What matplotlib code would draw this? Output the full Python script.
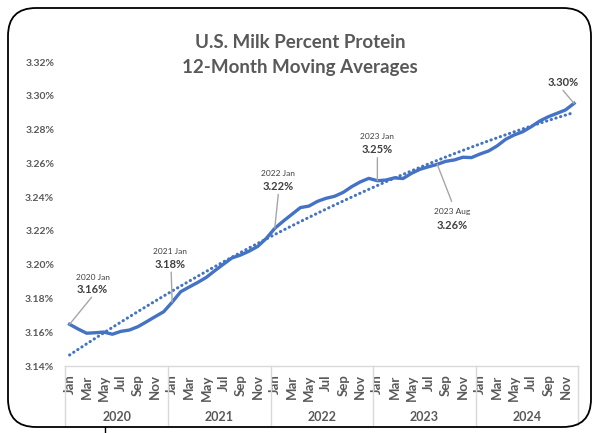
import numpy as np
import matplotlib
matplotlib.use("Agg")
import matplotlib.pyplot as plt
from matplotlib.patches import FancyBboxPatch
from matplotlib.lines import Line2D
import matplotlib.transforms as mtransforms

plt.rcParams['font.family'] = ['Lato', 'DejaVu Sans']

years = ['2020', '2021', '2022', '2023', '2024']
months = ['Jan', 'Feb', 'Mar', 'Apr', 'May', 'Jun', 'Jul', 'Aug', 'Sep', 'Oct', 'Nov', 'Dec']

protein_2020 = [3.1647, 3.1619, 3.1594, 3.1597, 3.1601, 3.1588, 3.1605, 3.1613, 3.1633, 3.1662, 3.1692, 3.1721]
protein_2021 = [3.1778, 3.1840, 3.1868, 3.1895, 3.1925, 3.1965, 3.2003, 3.2040, 3.2057, 3.2080, 3.2108, 3.2155]
protein_2022 = [3.2215, 3.2258, 3.2298, 3.2338, 3.2347, 3.2375, 3.2393, 3.2405, 3.2428, 3.2462, 3.2490, 3.2511]
protein_2023 = [3.2497, 3.2501, 3.2514, 3.2510, 3.2541, 3.2565, 3.2580, 3.2594, 3.2612, 3.2620, 3.2636, 3.2634]
protein_2024 = [3.2655, 3.2673, 3.2703, 3.2742, 3.2768, 3.2787, 3.2817, 3.2851, 3.2876, 3.2896, 3.2916, 3.2955]

yticks = [3.14, 3.16, 3.18, 3.20, 3.22, 3.24, 3.26, 3.28, 3.30, 3.32]

# annotations: (index, date label, value label)
callouts = [(0, '2020 Jan', '3.16%'), (12, '2021 Jan', '3.18%'), (24, '2022 Jan', '3.22%'),
            (36, '2023 Jan', '3.25%'), (43, '2023 Aug', '3.26%'), (59, '', '3.30%')]
# offsets in pixels: (dx, dy_date, dy_value, leader_dx, leader_dy)
callout_offsets = {0: (23, 47, 35, 22, 27), 12: (-2, 51, 38, -1, 30), 24: (3.5, 55, 42, 3.5, 34),
                   36: (0, 44, 31, 0, 23), 43: (14.5, -47, -61, 14.4, -37), 59: (-11, None, 21, -11, 13)}

values = np.array(protein_2020 + protein_2021 + protein_2022 + protein_2023 + protein_2024)
x = np.arange(len(values))
coef = np.polyfit(x, values, 2)
trend = np.polyval(coef, x)

W, H = 600, 433
fig = plt.figure(figsize=(W / 100, H / 100), dpi=100)
fig.patch.set_facecolor('white')

ax = fig.add_axes([65.3 / W, 1 - 366 / H, (578.3 - 65.3) / W, (366 - 62) / H])
blue = '#4472C4'
gray = '#595959'
ax.plot(x, trend, color=blue, lw=2.2, linestyle=(0, (0.1, 1.5)), dash_capstyle='round', zorder=2)
ax.plot(x, values, color=blue, lw=2.4, solid_joinstyle='round', zorder=3)

ax.set_xlim(-0.5, len(values) - 0.5)
ax.set_ylim(3.14, 3.32)
ax.set_yticks(yticks)
ax.set_yticklabels([f'{v:.2f}%' for v in yticks], fontsize=7.5, fontweight='bold', color=gray)
ax.tick_params(axis='y', length=0, pad=8)

mlabels = [months[i % 12] if i % 2 == 0 else '' for i in range(len(values))]
ax.set_xticks(x)
ax.set_xticklabels(mlabels, rotation=90, fontsize=9.5, fontweight='bold', color=gray, va='top', ha='center')
ax.tick_params(axis='x', length=0, pad=6)

for s in ['top', 'right', 'left']:
    ax.spines[s].set_visible(False)
ax.spines['bottom'].set_color('#d9d9d9')
ax.spines['bottom'].set_linewidth(1)

trans = mtransforms.blended_transform_factory(ax.transData, ax.transAxes)
for k in range(len(years) + 1):
    bx = k * 12 - 0.5
    ax.add_line(Line2D([bx, bx], [0, -59 / 304], transform=trans, color='#d9d9d9', lw=1, clip_on=False))
for k, yr in enumerate(years):
    ax.text(k * 12 + 5.5, -50.7 / 304, yr, transform=trans, ha='center', va='center',
            fontsize=9, fontweight='bold', color=gray)

for idx, dlab, vlab in callouts:
    dx, dyd, dyv, ldx, ldy = callout_offsets[idx]
    pt = (x[idx], values[idx])
    ax.annotate('', xy=pt, xytext=(ldx, ldy), textcoords='offset pixels',
                arrowprops=dict(arrowstyle='-', color='#a6a6a6', lw=1, shrinkA=0, shrinkB=0))
    if dlab:
        ax.annotate(dlab, xy=pt, xytext=(dx, dyd), textcoords='offset pixels', ha='center', va='center',
                    fontsize=6, color='#404040')
    ax.annotate(vlab, xy=pt, xytext=(dx, dyv), textcoords='offset pixels', ha='center', va='center',
                fontsize=8, fontweight='bold', color='#404040')

fig.text(0.5, 1 - 43 / H, 'U.S. Milk Percent Protein', ha='center', va='center',
         fontsize=13.5, fontweight='bold', color=gray)
fig.text(0.5, 1 - 67 / H, '12-Month Moving Averages', ha='center', va='center',
         fontsize=13.5, fontweight='bold', color=gray)

frame = FancyBboxPatch((8, 6), 583, 419, boxstyle='round,pad=0,rounding_size=28',
                       transform=mtransforms.IdentityTransform(), fill=False, edgecolor='black', lw=1.3)
fig.patches.append(frame)
fig.lines.append(Line2D([105, 105], [0, 6], transform=mtransforms.IdentityTransform(), color='black', lw=1))

fig.savefig('out.png', dpi=100)
